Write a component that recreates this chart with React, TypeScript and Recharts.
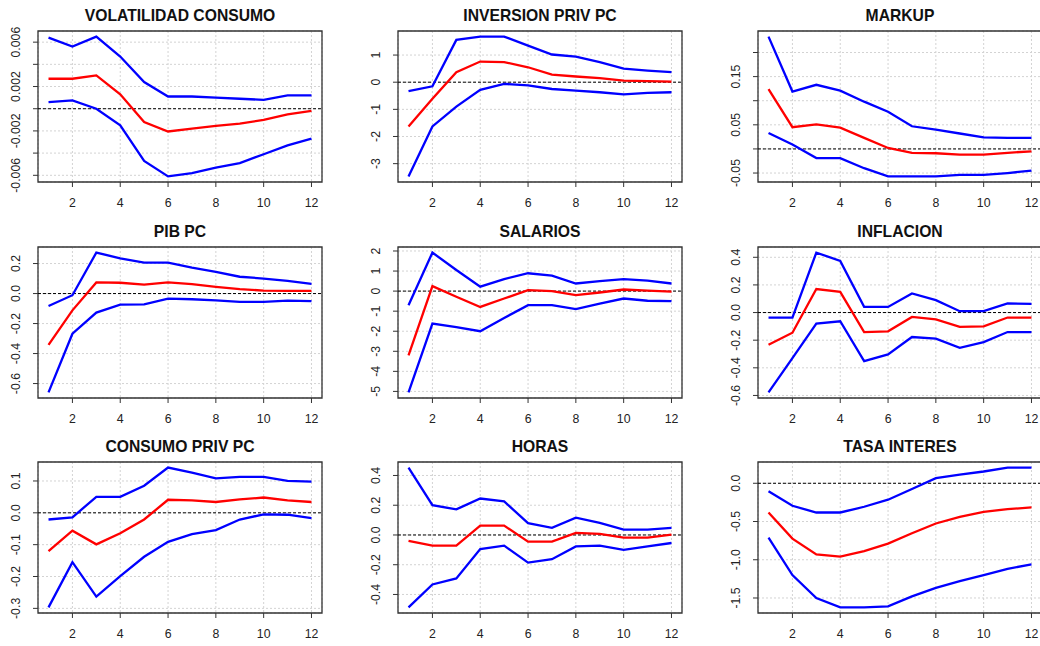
import React from "react";
import {
  LineChart,
  Line,
  XAxis,
  YAxis,
  CartesianGrid,
  ReferenceLine,
  ReferenceArea,
} from "recharts";

const horizontes = [1, 2, 3, 4, 5, 6, 7, 8, 9, 10, 11, 12];
const ticksX = [2, 4, 6, 8, 10, 12];

// VOLATILIDAD CONSUMO
const volSup = [0.0064, 0.0056, 0.0065, 0.0047, 0.0024, 0.0011, 0.0011, 0.001, 0.0009, 0.0008, 0.0012, 0.0012];
const volIrf = [0.0027, 0.0027, 0.003, 0.0013, -0.0012, -0.00205, -0.0018, -0.00155, -0.00135, -0.001, -0.0005, -0.0002];
const volInf = [0.0006, 0.00075, 0.0, -0.0015, -0.0047, -0.0061, -0.0058, -0.0053, -0.0049, -0.0041, -0.0033, -0.0027];
const volTicks = [-0.006, -0.004, -0.002, 0, 0.002, 0.004, 0.006];
const volLabels = ["-0.006", "", "-0.002", "", "0.002", "", "0.006"];

// INVERSION PRIV PC
const invSup = [-0.33, -0.15, 1.56, 1.68, 1.68, 1.35, 1.02, 0.94, 0.74, 0.5, 0.43, 0.37];
const invIrf = [-1.63, -0.61, 0.37, 0.76, 0.74, 0.55, 0.28, 0.21, 0.15, 0.06, 0.04, 0.02];
const invInf = [-3.47, -1.63, -0.9, -0.28, -0.06, -0.12, -0.25, -0.31, -0.37, -0.45, -0.39, -0.37];
const invTicks = [-3, -2, -1, 0, 1];
const invLabels = ["-3", "-2", "-1", "0", "1"];

// MARKUP
const mkSup = [0.233, 0.119, 0.133, 0.121, 0.098, 0.077, 0.047, 0.04, 0.032, 0.024, 0.023, 0.023];
const mkIrf = [0.124, 0.045, 0.051, 0.044, 0.023, 0.002, -0.008, -0.009, -0.012, -0.012, -0.008, -0.005];
const mkInf = [0.033, 0.009, -0.019, -0.019, -0.04, -0.057, -0.057, -0.057, -0.054, -0.054, -0.05, -0.045];
const mkTicks = [-0.05, 0, 0.05, 0.1, 0.15, 0.2];
const mkLabels = ["-0.05", "", "0.05", "", "0.15", ""];

// PIB PC
const pibSup = [-0.083, -0.011, 0.273, 0.235, 0.206, 0.206, 0.172, 0.145, 0.112, 0.1, 0.085, 0.065];
const pibIrf = [-0.342, -0.112, 0.074, 0.072, 0.06, 0.074, 0.063, 0.045, 0.029, 0.02, 0.018, 0.018];
const pibInf = [-0.659, -0.268, -0.127, -0.074, -0.072, -0.034, -0.038, -0.045, -0.056, -0.056, -0.047, -0.051];
const pibTicks = [-0.6, -0.4, -0.2, 0, 0.2];
const pibLabels = ["-0.6", "-0.4", "-0.2", "0.0", "0.2"];

// SALARIOS
const salSup = [-0.7, 1.92, 1.05, 0.22, 0.6, 0.89, 0.77, 0.38, 0.5, 0.6, 0.52, 0.38];
const salIrf = [-3.21, 0.25, -0.28, -0.79, -0.37, 0.05, 0.0, -0.2, -0.07, 0.08, 0.02, -0.03];
const salInf = [-5.05, -1.62, -1.79, -2.0, -1.34, -0.7, -0.7, -0.9, -0.62, -0.37, -0.48, -0.5];
const salTicks = [-5, -4, -3, -2, -1, 0, 1, 2];
const salLabels = ["-5", "-4", "-3", "-2", "-1", "0", "1", "2"];

// INFLACION
const infSup = [-0.036, -0.036, 0.434, 0.374, 0.041, 0.041, 0.138, 0.09, 0.01, 0.01, 0.066, 0.063];
const infIrf = [-0.233, -0.146, 0.17, 0.15, -0.141, -0.136, -0.032, -0.049, -0.104, -0.1, -0.036, -0.036];
const infInf = [-0.578, -0.33, -0.08, -0.063, -0.352, -0.303, -0.177, -0.189, -0.255, -0.214, -0.141, -0.141];
const infTicks = [-0.6, -0.4, -0.2, 0, 0.2, 0.4];
const infLabels = ["-0.6", "-0.4", "-0.2", "0.0", "0.2", "0.4"];

// CONSUMO PRIV PC
const conSup = [-0.021, -0.014, 0.05, 0.05, 0.085, 0.142, 0.126, 0.108, 0.113, 0.113, 0.1, 0.098];
const conIrf = [-0.12, -0.056, -0.099, -0.064, -0.021, 0.041, 0.039, 0.034, 0.042, 0.048, 0.039, 0.034];
const conInf = [-0.297, -0.155, -0.263, -0.199, -0.138, -0.091, -0.067, -0.054, -0.021, -0.005, -0.006, -0.017];
const conTicks = [-0.3, -0.2, -0.1, 0, 0.1];
const conLabels = ["-0.3", "-0.2", "-0.1", "0.0", "0.1"];

// HORAS
const horSup = [0.453, 0.2, 0.172, 0.245, 0.226, 0.079, 0.048, 0.116, 0.082, 0.036, 0.036, 0.048];
const horIrf = [-0.039, -0.072, -0.072, 0.063, 0.063, -0.045, -0.045, 0.014, 0.007, -0.018, -0.018, 0.002];
const horInf = [-0.487, -0.333, -0.292, -0.095, -0.072, -0.186, -0.163, -0.077, -0.072, -0.1, -0.077, -0.054];
const horTicks = [-0.4, -0.2, 0, 0.2, 0.4];
const horLabels = ["-0.4", "-0.2", "0.0", "0.2", "0.4"];

// TASA INTERES
const tasSup = [-0.105, -0.294, -0.382, -0.382, -0.307, -0.215, -0.075, 0.066, 0.114, 0.154, 0.205, 0.205];
const tasIrf = [-0.382, -0.724, -0.93, -0.96, -0.886, -0.789, -0.654, -0.526, -0.439, -0.373, -0.338, -0.316];
const tasInf = [-0.711, -1.2, -1.5, -1.623, -1.623, -1.61, -1.478, -1.368, -1.28, -1.2, -1.118, -1.061];
const tasTicks = [-1.5, -1, -0.5, 0];
const tasLabels = ["-1.5", "-1.0", "-0.5", "0.0"];

const paneles = [
  { titulo: "VOLATILIDAD CONSUMO", sup: volSup, irf: volIrf, inf: volInf, ticks: volTicks, labels: volLabels },
  { titulo: "INVERSION PRIV PC", sup: invSup, irf: invIrf, inf: invInf, ticks: invTicks, labels: invLabels },
  { titulo: "MARKUP", sup: mkSup, irf: mkIrf, inf: mkInf, ticks: mkTicks, labels: mkLabels },
  { titulo: "PIB PC", sup: pibSup, irf: pibIrf, inf: pibInf, ticks: pibTicks, labels: pibLabels },
  { titulo: "SALARIOS", sup: salSup, irf: salIrf, inf: salInf, ticks: salTicks, labels: salLabels },
  { titulo: "INFLACION", sup: infSup, irf: infIrf, inf: infInf, ticks: infTicks, labels: infLabels },
  { titulo: "CONSUMO PRIV PC", sup: conSup, irf: conIrf, inf: conInf, ticks: conTicks, labels: conLabels },
  { titulo: "HORAS", sup: horSup, irf: horIrf, inf: horInf, ticks: horTicks, labels: horLabels },
  { titulo: "TASA INTERES", sup: tasSup, irf: tasIrf, inf: tasInf, ticks: tasTicks, labels: tasLabels },
];

const colLeft = [-22, 338, 698];
const rowTop = [0, 216, 431];

const W = 360;
const H = 215;
const BOX_LEFT = 60;
const BOX_W = 284;
const BOX_TOP = 31;
const BOX_H = 151;

// R style axis extension: 4% of the data range on each side
const extend = (lo: number, hi: number): [number, number] => {
  const pad = (hi - lo) * 0.04;
  return [lo - pad, hi + pad];
};

const YTick = (props: any) => {
  const { x, y, payload, ticks, labels } = props;
  const i = ticks.findIndex((t: number) => Math.abs(t - payload.value) < 1e-9);
  const txt = i >= 0 ? labels[i] : "";
  if (!txt) return <g />;
  return (
    <text
      x={x}
      y={y}
      transform={`rotate(-90 ${x} ${y})`}
      textAnchor="middle"
      fontSize={12.3}
      fill="#222"
    >
      {txt}
    </text>
  );
};

const Panel = ({ p, left, top }: any) => {
  const rows = horizontes.map((h, i) => ({ h, sup: p.sup[i], irf: p.irf[i], inf: p.inf[i] }));
  const all = [...p.sup, ...p.irf, ...p.inf];
  const yDom = extend(Math.min(...all), Math.max(...all));
  const xDom = extend(horizontes[0], horizontes[horizontes.length - 1]);

  return (
    <div style={{ position: "absolute", left, top, width: W, height: H }}>
      <div
        style={{
          position: "absolute",
          left: BOX_LEFT,
          width: BOX_W,
          top: 6,
          textAlign: "center",
          fontWeight: "bold",
          fontSize: 15.7,
          lineHeight: "19px",
          color: "#111",
          whiteSpace: "nowrap",
        }}
      >
        {p.titulo}
      </div>
      <LineChart
        width={W}
        height={H}
        data={rows}
        margin={{ top: BOX_TOP, right: W - BOX_LEFT - BOX_W, bottom: 0, left: 0 }}
      >
        <CartesianGrid stroke="#d3d3d3" strokeDasharray="2 2" />
        <XAxis
          dataKey="h"
          type="number"
          domain={xDom}
          ticks={ticksX}
          interval={0}
          height={H - BOX_TOP - BOX_H}
          axisLine={false}
          tickLine={{ stroke: "#333" }}
          tickSize={5}
          tickMargin={11}
          tick={{ fill: "#222", fontSize: 12.3 }}
        />
        <YAxis
          type="number"
          domain={yDom}
          ticks={p.ticks}
          interval={0}
          width={BOX_LEFT}
          axisLine={false}
          tickLine={{ stroke: "#333" }}
          tickSize={5}
          tickMargin={13}
          tick={(tp: any) => <YTick {...tp} ticks={p.ticks} labels={p.labels} />}
        />
        <ReferenceLine y={0} stroke="#000" strokeDasharray="3 2" strokeWidth={1} />
        <Line dataKey="sup" stroke="#0000ff" strokeWidth={2.3} dot={false} isAnimationActive={false} />
        <Line dataKey="inf" stroke="#0000ff" strokeWidth={2.3} dot={false} isAnimationActive={false} />
        <Line dataKey="irf" stroke="#ff0000" strokeWidth={2.3} dot={false} isAnimationActive={false} />
        <ReferenceArea
          x1={xDom[0]}
          x2={xDom[1]}
          y1={yDom[0]}
          y2={yDom[1]}
          fill="none"
          stroke="#333"
          strokeWidth={1.3}
          ifOverflow="visible"
        />
      </LineChart>
    </div>
  );
};

const App = () => (
  <div
    style={{
      position: "fixed",
      left: 0,
      top: 0,
      width: 1040,
      height: 646,
      overflow: "hidden",
      background: "#fff",
      fontFamily: "'Liberation Sans', Arial, sans-serif",
    }}
  >
    {paneles.map((p, i) => (
      <Panel key={p.titulo} p={p} left={colLeft[i % 3]} top={rowTop[Math.floor(i / 3)]} />
    ))}
  </div>
);

export default App;
